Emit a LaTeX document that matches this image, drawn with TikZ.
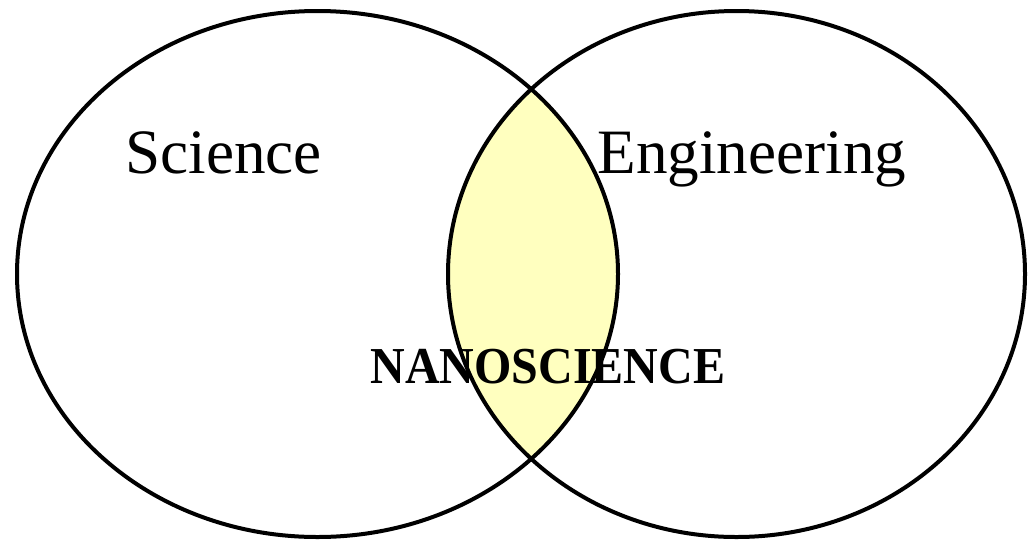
\documentclass[tikz,border=0pt]{standalone}
\usepackage{fontspec}
\setmainfont{Liberation Serif}
\definecolor{lens}{HTML}{FFFFBF}
\begin{document}
\begin{tikzpicture}[x=0.5pt,y=-0.5pt,
  ring/.style={draw=black,line width=2pt},
  lbl/.style={anchor=base west,inner sep=0pt,font=\fontsize{31.6}{38}\selectfont},
  nano/.style={anchor=base west,inner sep=0pt,font=\fontsize{24}{29}\selectfont\bfseries}]
\useasboundingbox (0,0) rectangle (1028,542);
\fill[white] (0,0) rectangle (1028,542);
\coordinate (cl) at (317.5,274);
\coordinate (cr) at (736.5,274);
\begin{scope}
  \clip (cl) ellipse [x radius=300.5, y radius=263];
  \fill[lens] (cr) ellipse [x radius=288.5, y radius=263];
\end{scope}
\draw[ring] (cl) ellipse [x radius=300.5, y radius=263];
\draw[ring] (cr) ellipse [x radius=288.5, y radius=263];
\node[lbl] (sci) at (125,173) {Science};
\node[lbl] (eng) at (597,173) {Engineering};
\node[nano] (nan) at (370,383) {\scalebox{1}[1.08]{NANOSCIENCE}};
\end{tikzpicture}
\end{document}
